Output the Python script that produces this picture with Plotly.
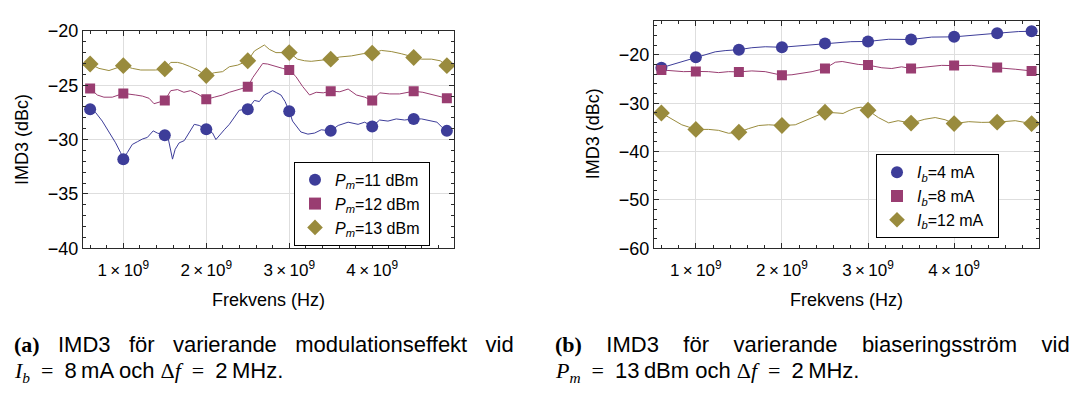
import plotly.graph_objects as go

# ---------------- data (GHz, dBc) ----------------
# (a) varying modulation power, I_b = 8 mA
a11_f = [0.6, 0.665, 0.746, 0.827, 0.907, 0.967, 1.0, 1.048, 1.108, 1.169, 1.23, 1.29, 1.36, 1.41, 1.5,
         1.544, 1.572, 1.593, 1.625, 1.673, 1.734, 1.794, 1.855, 1.915, 2.0, 2.076, 2.116, 2.157, 2.217,
         2.278, 2.338, 2.398, 2.5, 2.58, 2.64, 2.70, 2.75, 2.80, 2.85, 2.90, 2.95, 3.0, 3.04, 3.08, 3.14,
         3.225, 3.306, 3.386, 3.5, 3.59, 3.71, 3.83, 3.91, 4.0, 4.09, 4.19, 4.29, 4.39, 4.5, 4.595, 4.70,
         4.78, 4.84, 4.9]
a11_v = [-27.2, -27.5, -28.3, -29.3, -30.3, -31.2, -31.8, -31.2, -30.45, -30.2, -29.95, -29.8, -29.2, -29.4,
         -29.6, -30.0, -31.2, -31.8, -30.9, -30.3, -30.1, -29.4, -28.6, -28.7, -29.05, -29.4, -30.0, -29.6,
         -29.1, -28.6, -28.0, -27.3, -27.2, -26.4, -26.5, -25.9, -25.7, -25.5, -25.7, -25.9, -26.5, -27.4,
         -28.3, -28.7, -29.3, -29.5, -29.4, -29.1, -29.2, -28.7, -28.4, -28.6, -28.4, -28.8, -28.2, -28.3,
         -28.1, -28.2, -28.1, -28.1, -28.3, -28.4, -28.85, -29.2]

a12_f = [0.6, 0.686, 0.766, 0.867, 1.0, 1.069, 1.149, 1.23, 1.31, 1.37, 1.5, 1.572, 1.653, 1.73, 1.81, 1.895,
         2.0, 2.096, 2.197, 2.278, 2.378, 2.5, 2.56, 2.62, 2.68, 2.74, 2.82, 2.92, 3.0, 3.08, 3.16, 3.245,
         3.325, 3.41, 3.5, 3.61, 3.71, 3.81, 3.91, 4.0, 4.09, 4.21, 4.33, 4.5, 4.61, 4.76, 4.9]
a12_v = [-25.3, -25.9, -26.1, -26.1, -25.75, -25.8, -25.9, -26.0, -26.2, -26.7, -26.4, -25.5, -25.4, -25.65,
         -25.5, -25.8, -26.3, -26.1, -25.9, -25.65, -25.4, -25.15, -24.3, -23.6, -23.0, -23.05, -23.25,
         -23.45, -23.6, -24.2, -25.1, -25.9, -25.65, -25.7, -25.55, -25.6, -25.35, -25.9, -26.1, -26.4,
         -25.7, -25.8, -25.8, -25.55, -25.65, -25.9, -26.2]

a13_f = [0.6, 0.706, 0.827, 0.907, 1.0, 1.108, 1.21, 1.31, 1.39, 1.5, 1.572, 1.653, 1.71, 1.794, 1.895, 2.0,
         2.096, 2.197, 2.278, 2.378, 2.5, 2.58, 2.66, 2.70, 2.76, 2.84, 2.92, 3.0, 3.10, 3.185, 3.265, 3.366,
         3.5, 3.61, 3.75, 3.89, 4.0, 4.11, 4.23, 4.35, 4.5, 4.595, 4.715, 4.82, 4.9]
a13_v = [-23.05, -23.45, -23.65, -23.45, -23.2, -23.45, -23.6, -23.6, -23.6, -23.5, -22.9, -22.9, -23.0,
         -23.25, -23.6, -24.1, -23.85, -23.75, -23.3, -23.15, -22.75, -21.85, -21.5, -21.3, -21.7, -22.0,
         -22.0, -22.0, -22.6, -22.75, -22.8, -22.7, -22.6, -22.4, -22.3, -22.1, -22.05, -21.8, -21.9, -22.1,
         -22.45, -22.6, -22.6, -22.75, -23.2]

# (b) varying bias current, P_m = 13 dBm
b4_f = [0.6, 0.72, 0.837, 1.0, 1.108, 1.225, 1.34, 1.5, 1.65, 1.806, 2.0, 2.19, 2.35, 2.5, 2.66, 2.8, 3.0,
        3.24, 3.5, 3.74, 4.0, 4.28, 4.5, 4.75, 4.9]
b4_v = [-22.65, -22.0, -21.35, -20.45, -19.85, -19.35, -19.1, -18.9, -18.5, -18.3, -18.4, -18.1, -17.9,
        -17.6, -17.4, -17.25, -17.2, -16.75, -16.8, -16.3, -16.25, -15.75, -15.5, -15.15, -15.1]

b8_f = [0.6, 0.72, 0.857, 1.0, 1.148, 1.264, 1.38, 1.5, 1.65, 1.806, 2.0, 2.116, 2.23, 2.35, 2.5, 2.62, 2.70,
        2.78, 2.886, 3.0, 3.16, 3.276, 3.39, 3.5, 3.70, 3.855, 4.0, 4.205, 4.36, 4.5, 4.71, 4.9]
b8_v = [-23.1, -23.3, -23.45, -23.4, -23.45, -23.65, -23.45, -23.5, -23.3, -23.45, -24.2, -24.1, -23.8,
        -23.45, -22.8, -21.5, -21.35, -21.6, -21.95, -22.1, -22.65, -22.8, -22.45, -22.8, -22.45, -22.15,
        -22.2, -22.15, -22.45, -22.6, -22.95, -23.3]

b12_f = [0.6, 0.72, 0.837, 0.915, 1.0, 1.148, 1.264, 1.38, 1.5, 1.61, 1.73, 1.845, 2.0, 2.155, 2.31, 2.5,
         2.64, 2.71, 2.78, 2.85, 2.92, 3.0, 3.12, 3.24, 3.35, 3.5, 3.66, 3.78, 3.895, 4.0, 4.17, 4.32, 4.5,
         4.71, 4.9]
b12_v = [-32.0, -33.3, -34.45, -34.9, -35.4, -35.4, -35.6, -36.2, -36.0, -35.25, -34.6, -34.45, -34.6, -34.45,
         -33.3, -31.85, -32.0, -32.1, -31.5, -31.0, -30.8, -31.45, -32.95, -34.05, -33.6, -34.1, -33.3,
         -32.95, -33.4, -34.2, -33.8, -33.95, -33.9, -33.6, -34.2]

# marker points
mk_f = [0.6, 1.0, 1.5, 2.0, 2.5, 3.0, 3.5, 4.0, 4.5, 4.9]
mk_a11 = [-27.2, -31.8, -29.6, -29.05, -27.2, -27.4, -29.2, -28.8, -28.1, -29.2]
mk_a12 = [-25.3, -25.75, -26.4, -26.3, -25.15, -23.6, -25.55, -26.4, -25.55, -26.2]
mk_a13 = [-23.05, -23.2, -23.5, -24.1, -22.75, -22.0, -22.6, -22.05, -22.45, -23.2]
mk_b4 = [-22.65, -20.45, -18.9, -18.4, -17.6, -17.2, -16.8, -16.25, -15.5, -15.1]
mk_b8 = [-23.1, -23.4, -23.5, -24.2, -22.8, -22.1, -22.8, -22.2, -22.6, -23.3]
mk_b12 = [-32.0, -35.4, -36.0, -34.6, -31.85, -31.45, -34.1, -34.2, -33.9, -34.2]

names_a = ["<i>P</i><sub><i>m</i></sub>=11 dBm&nbsp;", "<i>P</i><sub><i>m</i></sub>=12 dBm&nbsp;",
           "<i>P</i><sub><i>m</i></sub>=13 dBm&nbsp;"]
names_b = ["<i>I</i><sub><i>b</i></sub>=4 mA", "<i>I</i><sub><i>b</i></sub>=8 mA",
           "<i>I</i><sub><i>b</i></sub>=12 mA&nbsp;&nbsp;"]

x_tickvals = [1, 2, 3, 4]
x_ticktext = ["1\u2009×\u200910<sup>9</sup>", "2\u2009×\u200910<sup>9</sup>",
              "3\u2009×\u200910<sup>9</sup>", "4\u2009×\u200910<sup>9</sup>"]
ya_tickvals = [-40, -35, -30, -25, -20]
yb_tickvals = [-60, -50, -40, -30, -20]

# ---------------- styling ----------------
colors = ["#3D3D99", "#993D71", "#998B3D"]
symbols = ["circle", "square", "diamond"]
msizes = [12, 10, 13]
FONT = "Liberation Sans, Arial, sans-serif"
SERIF = "Liberation Serif, DejaVu Serif, serif"
FRAME = "#2a2a2a"
GRID = "#dedede"

fig = go.Figure()

def G(lst):
    return [v * 1e9 for v in lst]

lines_a = [(a11_f, a11_v), (a12_f, a12_v), (a13_f, a13_v)]
marks_a = [mk_a11, mk_a12, mk_a13]
lines_b = [(b4_f, b4_v), (b8_f, b8_v), (b12_f, b12_v)]
marks_b = [mk_b4, mk_b8, mk_b12]

for i in range(3):
    fig.add_trace(go.Scatter(x=G(lines_a[i][0]), y=lines_a[i][1], mode="lines",
                             line=dict(color=colors[i], width=1), showlegend=False,
                             xaxis="x", yaxis="y", hoverinfo="skip"))
for i in range(3):
    fig.add_trace(go.Scatter(x=G(mk_f), y=marks_a[i], mode="markers", name=names_a[i],
                             marker=dict(color=colors[i], symbol=symbols[i], size=msizes[i], line=dict(width=0)),
                             xaxis="x", yaxis="y", legend="legend"))
for i in range(3):
    fig.add_trace(go.Scatter(x=G(lines_b[i][0]), y=lines_b[i][1], mode="lines",
                             line=dict(color=colors[i], width=1), showlegend=False,
                             xaxis="x2", yaxis="y2", hoverinfo="skip"))
for i in range(3):
    fig.add_trace(go.Scatter(x=G(mk_f), y=marks_b[i], mode="markers", name=names_b[i],
                             marker=dict(color=colors[i], symbol=symbols[i], size=msizes[i], line=dict(width=0)),
                             xaxis="x2", yaxis="y2", legend="legend2"))

W, H = 1085, 394

def xax(domain, anchor):
    return dict(domain=domain, anchor=anchor, range=[0.514e9, 4.986e9],
                tickmode="array", tickvals=G(x_tickvals), ticktext=x_ticktext,
                ticks="inside", ticklen=5, tickcolor=FRAME, tickwidth=1, ticklabelstandoff=6,
                minor=dict(tickmode="linear", tick0=0, dtick=0.2e9, ticks="inside", ticklen=3,
                           tickcolor=FRAME, showgrid=False),
                showline=True, linecolor=FRAME, linewidth=1, mirror="allticks",
                showgrid=True, gridcolor=GRID, gridwidth=1, zeroline=False,
                tickfont=dict(family=FONT, size=17, color="black"))

def yax(domain, anchor, rng, tv, minor_dt):
    return dict(domain=domain, anchor=anchor, range=rng,
                tickmode="array", tickvals=tv, ticktext=[("−" + str(-v)) for v in tv],
                ticks="inside", ticklen=5, tickcolor=FRAME, tickwidth=1,
                minor=dict(tickmode="linear", tick0=0, dtick=minor_dt, ticks="inside", ticklen=3,
                           tickcolor=FRAME, showgrid=False),
                showline=True, linecolor=FRAME, linewidth=1, mirror="allticks",
                showgrid=True, gridcolor=GRID, gridwidth=1, zeroline=False,
                tickfont=dict(family=FONT, size=18, color="black"))

yd = [1 - 251 / H, 1 - 22 / H]
yd2 = [1 - 251 / H, 1 - 12 / H]

fig.update_layout(
    width=W, height=H, autosize=False,
    margin=dict(l=0, r=0, t=0, b=0),
    paper_bgcolor="white", plot_bgcolor="white",
    xaxis=xax([83 / W, 454 / W], "y"),
    yaxis=yax(yd, "x", [-40, -20], ya_tickvals, 1),
    xaxis2=xax([654 / W, 1039 / W], "y2"),
    yaxis2=yax(yd2, "x2", [-60, -13.05], yb_tickvals, 2),
    legend=dict(x=294 / W, y=1 - 160 / H, xanchor="left", yanchor="top", bgcolor="white",
                bordercolor="black", borderwidth=1, font=dict(family=FONT, size=16, color="black"),
                tracegroupgap=0, itemsizing="constant"),
    legend2=dict(x=876 / W, y=1 - 152 / H, xanchor="left", yanchor="top", bgcolor="white",
                 bordercolor="black", borderwidth=1, font=dict(family=FONT, size=16, color="black"),
                 tracegroupgap=0, itemsizing="constant"),
    showlegend=True,
)

ann = []
tfont = dict(family=FONT, size=18, color="black")
ann.append(dict(text="IMD3 (dBc)", x=22 / W, y=1 - 137 / H, xref="paper", yref="paper",
                textangle=-90, showarrow=False, font=tfont, xanchor="center", yanchor="middle"))
ann.append(dict(text="Frekvens (Hz)", x=268 / W, y=1 - 305 / H, xref="paper", yref="paper",
                showarrow=False, font=tfont, xanchor="center", yanchor="middle"))
ann.append(dict(text="IMD3 (dBc)", x=593 / W, y=1 - 131 / H, xref="paper", yref="paper",
                textangle=-90, showarrow=False, font=tfont, xanchor="center", yanchor="middle"))
ann.append(dict(text="Frekvens (Hz)", x=846 / W, y=1 - 305 / H, xref="paper", yref="paper",
                showarrow=False, font=tfont, xanchor="center", yanchor="middle"))

cfont = dict(family=FONT, size=22, color="black")
g3 = "&nbsp;" * 3
g4 = "&nbsp;" * 4
TS = "\u2009"
EQ = "&nbsp;&nbsp;=&nbsp;&nbsp;"
cap_a1 = ("<span style='font-family:" + SERIF + "'><b>(a)</b></span>" + g3 + "IMD3" + g3 + "för" + g3 +
          "varierande" + g3 + "modulationseffekt" + g3 + "vid")
cap_a2 = ("<span style='font-family:" + SERIF + "'><i>I</i><sub><i>b</i></sub>" + EQ + "</span>8" + TS + "mA och "
          "<span style='font-family:" + SERIF + "'>Δ<i>f</i>" + EQ + "</span>2" + TS + "MHz.")
cap_b1 = ("<span style='font-family:" + SERIF + "'><b>(b)</b></span>" + g4 + "IMD3" + g4 + "för" + g4 +
          "varierande" + g4 + "biaseringsström" + g4 + "vid")
cap_b2 = ("<span style='font-family:" + SERIF + "'><i>P</i><sub><i>m</i></sub>" + EQ + "</span>13" + TS + "dBm och "
          "<span style='font-family:" + SERIF + "'>Δ<i>f</i>" + EQ + "</span>2" + TS + "MHz.")
for txt, x, y in [(cap_a1, 12, 352), (cap_a2, 12, 381), (cap_b1, 553, 352), (cap_b2, 553, 381)]:
    ann.append(dict(text=txt, x=x / W, y=1 - y / H, xref="paper", yref="paper", showarrow=False,
                    font=cfont, xanchor="left", yanchor="middle", align="left"))

fig.update_layout(annotations=ann)
fig.write_html("out.html")
